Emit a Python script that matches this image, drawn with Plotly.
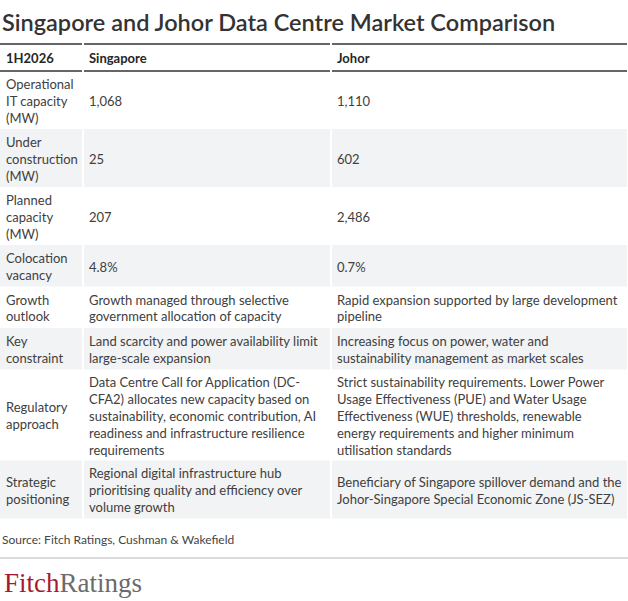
import plotly.graph_objects as go

# ---------------- data ----------------
title = "Singapore and Johor Data Centre Market Comparison"
header = ["1H2026", "Singapore", "Johor"]
metrics = [
    "Operational<br>IT capacity<br>(MW)",
    "Under<br>construction<br>(MW)",
    "Planned<br>capacity<br>(MW)",
    "Colocation<br>vacancy",
    "Growth<br>outlook",
    "Key<br>constraint",
    "Regulatory<br>approach",
    "Strategic<br>positioning",
]
singapore = [
    "1,068",
    "25",
    "207",
    "4.8%",
    "Growth managed through selective<br>government allocation of capacity",
    "Land scarcity and power availability limit<br>large-scale expansion",
    "Data Centre Call for Application (DC-<br>CFA2) allocates new capacity based on<br>"
    "sustainability, economic contribution, AI<br>readiness and infrastructure resilience<br>requirements",
    "Regional digital infrastructure hub<br>prioritising quality and efficiency over<br>volume growth",
]
johor = [
    "1,110",
    "602",
    "2,486",
    "0.7%",
    "Rapid expansion supported by large development<br>pipeline",
    "Increasing focus on power, water and<br>sustainability management as market scales",
    "Strict sustainability requirements. Lower Power<br>Usage Effectiveness (PUE) and Water Usage<br>"
    "Effectiveness (WUE) thresholds, renewable<br>energy requirements and higher minimum<br>utilisation standards",
    "Beneficiary of Singapore spillover demand and the<br>Johor-Singapore Special Economic Zone (JS-SEZ)",
]
source = "Source: Fitch Ratings, Cushman & Wakefield"

# ---------------- layout constants ----------------
W, H = 628, 601
FONT = "Lato, 'Noto Sans', sans-serif"
TEXT = "#404040"
SHADE = "#f1f3f4"
col_edges = [0, 83, 331, 628]
pad = 6
text_dy = 2.5
header_top, header_bot = 44, 71
line_h, row_pad = 16.5, 8.5

columns = [metrics, singapore, johor]
n_rows = len(metrics)
row_lines = [max(c[i].count("<br>") + 1 for c in columns) for i in range(n_rows)]
row_tops = []
y = header_bot
for n in row_lines:
    row_tops.append(y)
    y += n * line_h + row_pad
table_bottom = y
row_bots = row_tops[1:] + [table_bottom]
row_mid = [(a + b) / 2 + text_dy for a, b in zip(row_tops, row_bots)]

fig = go.Figure()

shapes = []
for i in range(n_rows):
    if i % 2 == 1:
        for c in range(3):
            shapes.append(dict(
                type="rect", xref="x", yref="y",
                x0=col_edges[c] + (1 if c > 0 else 0), x1=col_edges[c + 1] - 1,
                y0=row_tops[i], y1=row_bots[i],
                fillcolor=SHADE, line=dict(width=0), layer="below"))
for yy in (header_top, header_bot):
    for c in range(3):
        shapes.append(dict(
            type="line", xref="x", yref="y",
            x0=col_edges[c] + (1 if c > 0 else 0), x1=col_edges[c + 1] - 1,
            y0=yy, y1=yy, line=dict(color="#333333", width=1.5)))
shapes.append(dict(type="line", xref="x", yref="y", x0=0, x1=W, y0=558, y1=558,
                   line=dict(color="#cfcfcf", width=1.5)))

fig.add_trace(go.Scatter(
    x=[col_edges[c] + pad for c in range(3)],
    y=[(header_top + header_bot) / 2 + text_dy] * 3,
    text=["<b>%s</b>" % h for h in header],
    mode="text", textposition="middle right",
    textfont=dict(family=FONT, size=13, color="#262626"),
    hoverinfo="skip", showlegend=False))

for c, col in enumerate(columns):
    fig.add_trace(go.Scatter(
        x=[col_edges[c] + pad] * n_rows,
        y=row_mid,
        text=col,
        mode="text", textposition="middle right",
        textfont=dict(family=FONT, size=13, color=TEXT),
        hoverinfo="skip", showlegend=False))

annotations = [
    dict(text=title, xref="x", yref="y", x=0, y=22,
         xanchor="left", yanchor="middle", showarrow=False,
         font=dict(family=FONT, size=23.5, color="#333333", weight=600)),
    dict(text=source, xref="x", yref="y", x=0, y=539,
         xanchor="left", yanchor="middle", showarrow=False,
         font=dict(family=FONT, size=12, color="#444444")),
    dict(text="<span style='color:#a71930'>Fitch</span><span style='color:#6b6b6b'>Ratings</span>",
         xref="x", yref="y", x=2, y=583, xanchor="left", yanchor="middle", showarrow=False,
         font=dict(family="'Liberation Serif', 'DejaVu Serif', serif", size=27)),
]

fig.update_layout(
    width=W, height=H,
    margin=dict(l=0, r=0, t=0, b=0),
    paper_bgcolor="white", plot_bgcolor="white",
    xaxis=dict(range=[0, W], visible=False, fixedrange=True),
    yaxis=dict(range=[H, 0], visible=False, fixedrange=True),
    shapes=shapes, annotations=annotations,
    showlegend=False,
)

fig.write_html("out.html", config={"displayModeBar": False},
               post_script="document.body.style.margin='0';document.body.style.overflow='hidden';")
